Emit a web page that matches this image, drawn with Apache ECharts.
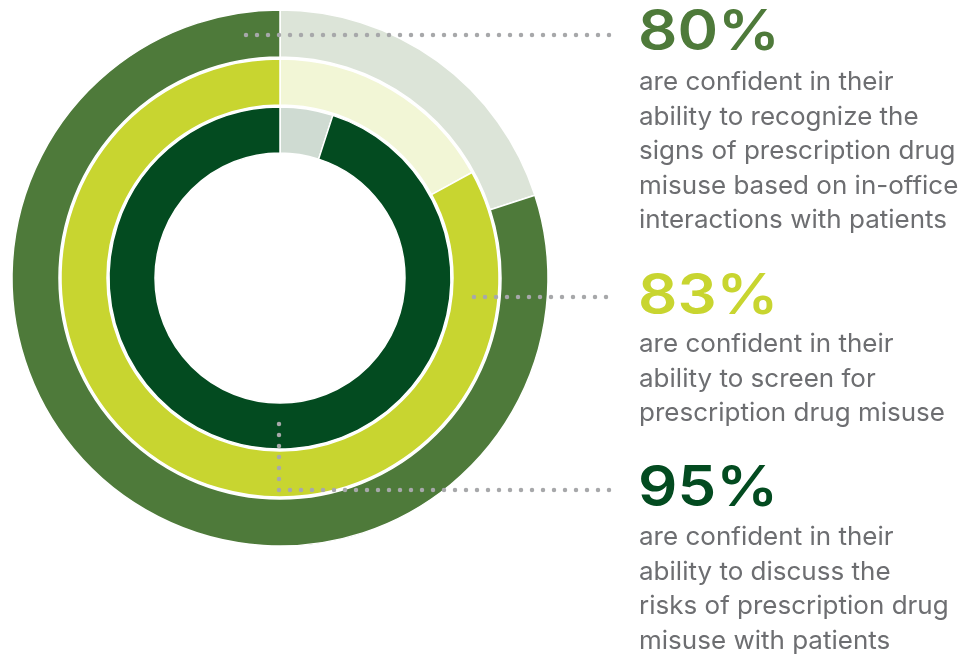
<!DOCTYPE html>
<html>
<head>
<meta charset="utf-8">
<script src="https://cdn.jsdelivr.net/npm/echarts@6/dist/echarts.min.js"></script>
<style>html,body{margin:0;padding:0;background:#fff}#c{width:962px;height:654px}</style>
</head>
<body>
<div id="c"></div>
<script>
var ringNames = ['recognize', 'screen', 'discuss'];
var confident = [80, 83, 95];
var notConfident = [20, 17, 5];
var headlines = ['80%', '83%', '95%'];
var descriptions = [
  ['are confident in their', 'ability to recognize the', 'signs of prescription drug', 'misuse based on in-office', 'interactions with patients'],
  ['are confident in their', 'ability to screen for', 'prescription drug misuse'],
  ['are confident in their', 'ability to discuss the', 'risks of prescription drug', 'misuse with patients']
];
var mainColors = ['#4E7A3A', '#C8D530', '#034B20'];
var lightColors = ['#DCE4D8', '#F2F6D6', '#CFDBD2'];
var radii = [[221, 268], [173, 219], [125, 171]];
var cx = 280, cy = 278;

var series = ringNames.map(function (n, i) {
  return {
    type: 'pie', name: n, center: [cx, cy], radius: radii[i],
    startAngle: 90, clockwise: true, silent: true, animation: false,
    label: {show: false}, labelLine: {show: false},
    itemStyle: {borderColor: '#fff', borderWidth: 1.5},
    data: [
      {value: notConfident[i], itemStyle: {color: lightColors[i]}},
      {value: confident[i], itemStyle: {color: mainColors[i]}}
    ]
  };
});

var textTops = [[32, 82], [296, 344], [488, 537]];
var graphics = [];
var dotStyle = {stroke: '#A7A8AA', lineWidth: 4.5, lineDash: [0, 11], lineCap: 'round'};
graphics.push({type: 'line', z: 100, shape: {x1: 246, y1: 35, x2: 616, y2: 35}, style: dotStyle});
graphics.push({type: 'line', z: 100, shape: {x1: 474, y1: 297, x2: 616, y2: 297}, style: dotStyle});
graphics.push({type: 'line', z: 100, shape: {x1: 279, y1: 424, x2: 279, y2: 490}, style: dotStyle});
graphics.push({type: 'line', z: 100, shape: {x1: 279, y1: 490, x2: 616, y2: 490}, style: dotStyle});
headlines.forEach(function (h, i) {
  graphics.push({type: 'text', z: 100, x: 638, y: textTops[i][0] - 27, scaleX: 1.1,
    style: {text: h, fill: mainColors[i], font: '600 56px Inter'}});
  graphics.push({type: 'text', z: 100, x: 639, y: textTops[i][1] - 17, scaleX: 1.02,
    style: {text: descriptions[i].join('\n'), fill: '#6D6E71', font: '25.5px Inter', lineHeight: 34.6}});
});

var chart = echarts.init(document.getElementById('c'));
chart.setOption({animation: false, series: series, graphic: graphics});
</script>
</body>
</html>
